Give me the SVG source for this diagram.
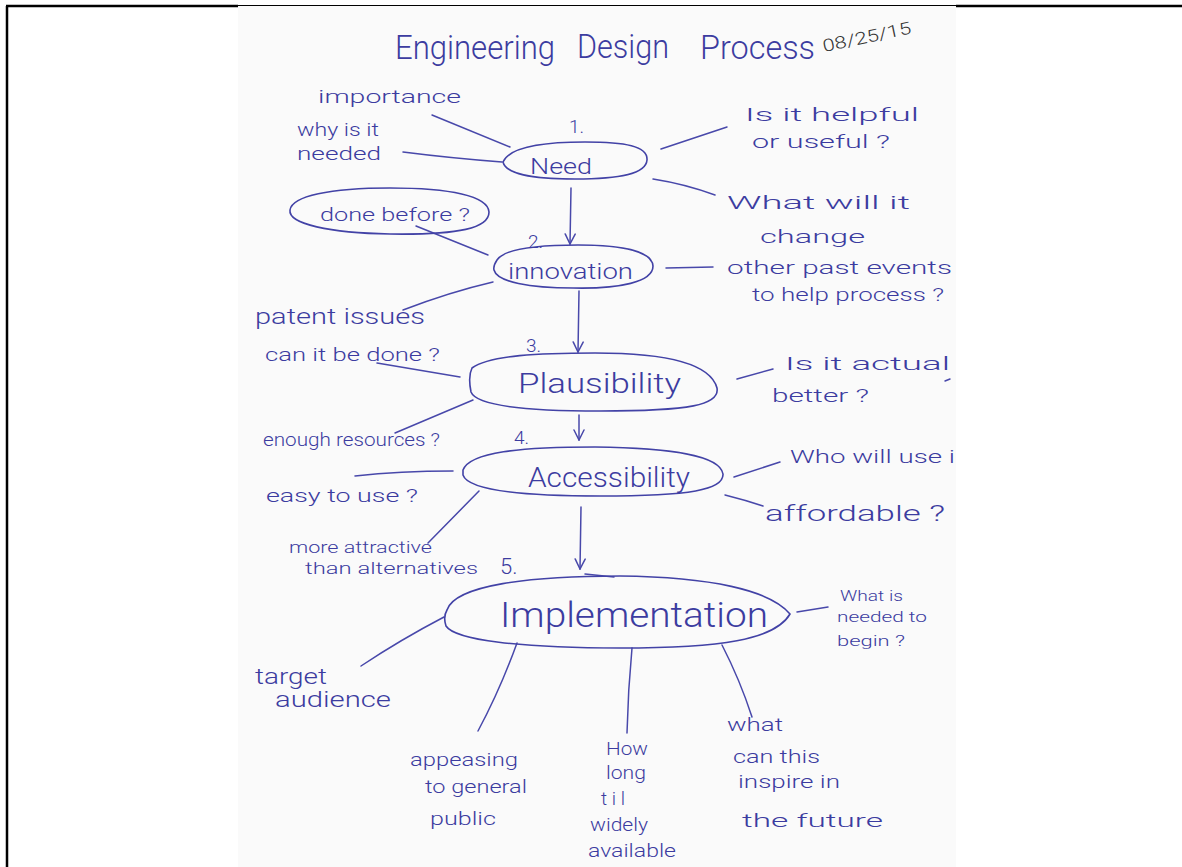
<svg xmlns="http://www.w3.org/2000/svg" width="1182" height="867" viewBox="0 0 1182 867">
<defs>
<style>
.ink{fill:#3c3ca0;font-family:Roboto,"DejaVu Sans",sans-serif;font-weight:300}
.s{font-size:19px}
.m{font-size:22px}
.l{font-size:28px}
.xl{font-size:35px}
.ln{stroke:#4848aa;stroke-width:1.5;fill:none;stroke-linecap:round}
.node{stroke:#4242a6;stroke-width:1.6;fill:none}
</style>
<marker id="ah" viewBox="0 0 12 12" refX="11" refY="6" markerWidth="12" markerHeight="12" markerUnits="userSpaceOnUse" orient="auto">
<path d="M1 1 L11 6 L1 11" fill="none" stroke="#4848aa" stroke-width="1.5" stroke-linecap="round"/>
</marker>
</defs>
<rect x="0" y="0" width="1182" height="867" fill="#ffffff"/>
<rect x="238" y="6" width="718" height="861" fill="#fafafa"/>
<g id="frame" stroke="#000" fill="none">
<line x1="7" y1="6" x2="7" y2="867" stroke-width="2.5"/>
<line x1="6" y1="6" x2="238" y2="6" stroke-width="2.5"/>
<line x1="238" y1="5.5" x2="956" y2="5.5" stroke-width="1"/>
<line x1="956" y1="6" x2="1182" y2="6" stroke-width="2.5"/>
</g>
<g id="title">
<text class="ink" x="395" y="59" font-size="34" textLength="160" lengthAdjust="spacingAndGlyphs">Engineering</text>
<text class="ink" x="577" y="58" font-size="34" textLength="92" lengthAdjust="spacingAndGlyphs">Design</text>
<text class="ink" x="700" y="59" font-size="34" textLength="115" lengthAdjust="spacingAndGlyphs">Process</text>
<text x="824" y="52" font-size="17" fill="#333" font-family="Roboto,DejaVu Sans,sans-serif" font-weight="300" transform="rotate(-12 824 52)" textLength="90" lengthAdjust="spacingAndGlyphs">08/25/15</text>
</g>
<g id="connectors">
<line class="ln" x1="571" y1="188" x2="570" y2="244" marker-end="url(#ah)"/>
<line class="ln" x1="579" y1="291" x2="578" y2="352" marker-end="url(#ah)"/>
<line class="ln" x1="579" y1="415" x2="579" y2="440" marker-end="url(#ah)"/>
<line class="ln" x1="581" y1="507" x2="580" y2="569" marker-end="url(#ah)"/>
<path class="ln" d="M432 115 L510 147"/>
<path class="ln" d="M403 152 Q450 158 502 162"/>
<path class="ln" d="M661 149 L727 127"/>
<path class="ln" d="M653 179 Q685 184 715 195"/>
<path class="ln" d="M416 226 L488 255"/>
<path class="ln" d="M493 282 Q450 292 403 310"/>
<path class="ln" d="M666 268 L713 267"/>
<path class="ln" d="M377 363 L460 377"/>
<path class="ln" d="M473 400 L395 433"/>
<path class="ln" d="M737 379 L773 369"/>
<path class="ln" d="M945 381 L950 379"/>
<path class="ln" d="M355 476 Q400 471 453 471"/>
<path class="ln" d="M479 491 L428 543"/>
<path class="ln" d="M734 477 L780 462"/>
<path class="ln" d="M725 495 Q745 500 763 506"/>
<path class="ln" d="M585 574 L614 577"/>
<path class="ln" d="M444 617 Q400 640 361 666"/>
<path class="ln" d="M517 643 Q500 690 478 731"/>
<path class="ln" d="M632 648 Q628 690 627 733"/>
<path class="ln" d="M722 645 Q740 680 752 717"/>
<path class="ln" d="M797 612 L828 607"/>
</g>
<g id="need">
<path class="node" d="M503 162 C510 146 545 142 585 142 C625 142 648 146 647 160 C646 174 620 179 575 179 C530 179 506 174 503 162 Z"/>
<text class="ink m" x="530" y="174" textLength="62" lengthAdjust="spacingAndGlyphs">Need</text>
<text class="ink s" x="569" y="133">1.</text>
</g>
<g id="innovation">
<path class="node" d="M497 260 C505 248 540 245 578 245 C625 245 652 252 653 266 C653 282 620 289 573 288 C530 288 497 282 494 270 C493 266 495 263 497 260 Z"/>
<text class="ink m" x="508" y="279" textLength="125" lengthAdjust="spacingAndGlyphs">innovation</text>
<text class="ink s" x="528" y="248">2.</text>
</g>
<g id="plausibility">
<path class="node" d="M472 368 C490 355 540 353 595 353 C660 353 710 362 717 388 C720 405 690 411 600 411 C520 411 476 405 471 392 C469 382 469 374 472 368 Z"/>
<text class="ink l" x="518" y="393" textLength="163" lengthAdjust="spacingAndGlyphs">Plausibility</text>
<text class="ink s" x="526" y="352">3.</text>
</g>
<g id="accessibility">
<path class="node" d="M463 470 C470 452 520 447 595 447 C670 448 720 455 723 474 C724 490 690 496 600 496 C520 496 468 490 463 475 Z"/>
<text class="ink l" x="528" y="487" textLength="162" lengthAdjust="spacingAndGlyphs">Accessibility</text>
<text class="ink s" x="514" y="444">4.</text>
</g>
<g id="implementation">
<path class="node" d="M447 610 C455 585 530 576 620 576 C710 577 770 590 790 614 C775 640 720 648 620 648 C520 648 455 640 446 626 C444 620 444 615 447 610 Z"/>
<text class="ink xl" x="500" y="627" textLength="268" lengthAdjust="spacingAndGlyphs">Implementation</text>
<text class="ink m" x="500" y="574">5.</text>
</g>
<g id="done-before">
<path class="node" d="M290 210 C292 196 330 188 390 188 C450 188 488 196 489 212 C489 228 460 235 390 234 C330 233 288 224 290 210 Z"/>
<text class="ink s" x="320" y="221" textLength="150" lengthAdjust="spacingAndGlyphs">done before ?</text>
</g>
<g id="labels">
<text class="ink s" x="318" y="103" textLength="143" lengthAdjust="spacingAndGlyphs">importance</text>
<text class="ink s" x="297" y="136" textLength="82" lengthAdjust="spacingAndGlyphs">why is it</text>
<text class="ink s" x="297" y="160" textLength="84" lengthAdjust="spacingAndGlyphs">needed</text>
<text class="ink s" x="745" y="121" textLength="174" lengthAdjust="spacingAndGlyphs">Is it helpful</text>
<text class="ink s" x="752" y="148" textLength="138" lengthAdjust="spacingAndGlyphs">or useful ?</text>
<text class="ink s" x="727" y="209" textLength="183" lengthAdjust="spacingAndGlyphs">What will it</text>
<text class="ink s" x="760" y="243" textLength="105" lengthAdjust="spacingAndGlyphs">change</text>
<text class="ink s" x="727" y="274" textLength="225" lengthAdjust="spacingAndGlyphs">other past events</text>
<text class="ink s" x="752" y="301" textLength="192" lengthAdjust="spacingAndGlyphs">to help process ?</text>
<text class="ink m" x="255" y="324" textLength="170" lengthAdjust="spacingAndGlyphs">patent issues</text>
<text class="ink s" x="265" y="361" textLength="175" lengthAdjust="spacingAndGlyphs">can it be done ?</text>
<text class="ink s" x="263" y="446" textLength="177" lengthAdjust="spacingAndGlyphs">enough resources ?</text>
<text class="ink s" x="785" y="370" textLength="165" lengthAdjust="spacingAndGlyphs">Is it actual</text>
<text class="ink s" x="772" y="402" textLength="97" lengthAdjust="spacingAndGlyphs">better ?</text>
<text class="ink s" x="266" y="502" textLength="152" lengthAdjust="spacingAndGlyphs">easy to use ?</text>
<text class="ink s" x="790" y="463" textLength="165" lengthAdjust="spacingAndGlyphs">Who will use i</text>
<text class="ink m" x="765" y="521" textLength="180" lengthAdjust="spacingAndGlyphs">affordable ?</text>
<text class="ink" x="289" y="553" font-size="16" textLength="143" lengthAdjust="spacingAndGlyphs">more attractive</text>
<text class="ink" x="305" y="574" font-size="16" textLength="173" lengthAdjust="spacingAndGlyphs">than alternatives</text>
<text class="ink" x="840" y="601" font-size="15" textLength="63" lengthAdjust="spacingAndGlyphs">What is</text>
<text class="ink" x="837" y="622" font-size="15" textLength="90" lengthAdjust="spacingAndGlyphs">needed to</text>
<text class="ink" x="837" y="646" font-size="15" textLength="68" lengthAdjust="spacingAndGlyphs">begin ?</text>
<text class="ink m" x="255" y="684" textLength="72" lengthAdjust="spacingAndGlyphs">target</text>
<text class="ink m" x="275" y="707" textLength="116" lengthAdjust="spacingAndGlyphs">audience</text>
<text class="ink s" x="410" y="766" textLength="108" lengthAdjust="spacingAndGlyphs">appeasing</text>
<text class="ink s" x="425" y="793" textLength="102" lengthAdjust="spacingAndGlyphs">to general</text>
<text class="ink s" x="430" y="825" textLength="66" lengthAdjust="spacingAndGlyphs">public</text>
<text class="ink s" x="606" y="755" textLength="42" lengthAdjust="spacingAndGlyphs">How</text>
<text class="ink s" x="606" y="779" textLength="40" lengthAdjust="spacingAndGlyphs">long</text>
<text class="ink s" x="601" y="805" textLength="24" lengthAdjust="spacing">til</text>
<text class="ink s" x="590" y="831" textLength="58" lengthAdjust="spacingAndGlyphs">widely</text>
<text class="ink s" x="588" y="857" textLength="88" lengthAdjust="spacingAndGlyphs">available</text>
<text class="ink s" x="727" y="731" textLength="56" lengthAdjust="spacingAndGlyphs">what</text>
<text class="ink s" x="733" y="763" textLength="87" lengthAdjust="spacingAndGlyphs">can this</text>
<text class="ink s" x="738" y="788" textLength="102" lengthAdjust="spacingAndGlyphs">inspire in</text>
<text class="ink s" x="742" y="827" textLength="141" lengthAdjust="spacingAndGlyphs">the future</text>
</g>
</svg>
